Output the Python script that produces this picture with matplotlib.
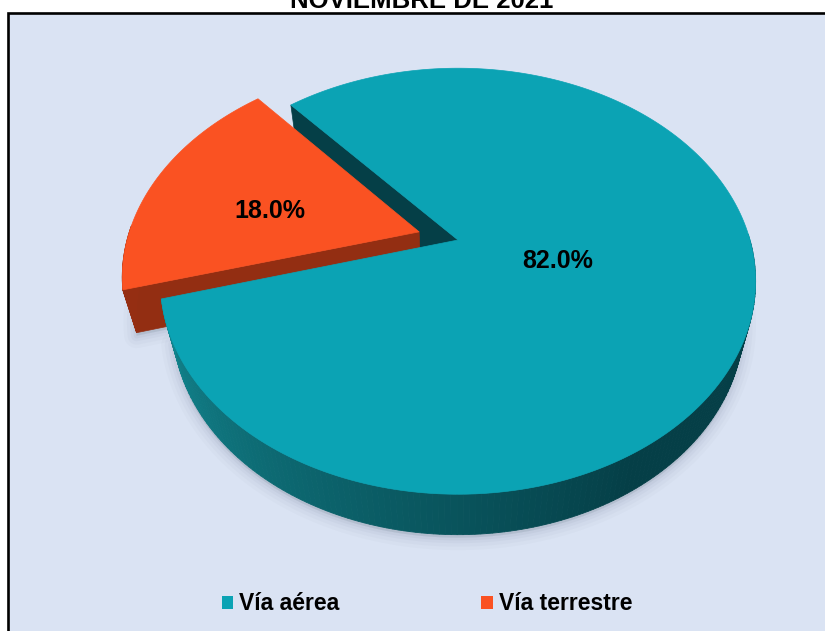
import numpy as np
import matplotlib
matplotlib.use('Agg')
import matplotlib.pyplot as plt
from matplotlib.patches import Polygon, Rectangle, Patch
from matplotlib.colors import to_rgb

# ---------------- data ----------------
title = 'NOVIEMBRE DE 2021'
categories = ['Vía aérea', 'Vía terrestre']
values = [82.0, 18.0]
pct_labels = ['82.0%', '18.0%']

# ---------------- style ----------------
top_colors = ['#0BA3B4', '#FA5222']
wall_light = ['#12868F', '#952E12']
wall_dark = ['#053F47', '#8A2A10']
face_colors = ['#053F47', '#932E12']
explode = [0.0, 0.14]
label_r = [0.35, 0.54]
label_frac = [0.5, 0.42]
start_angle = 131.0
FONT = 'Liberation Sans'

W, H = 825, 631
fig = plt.figure(figsize=(W / 100, H / 100), dpi=100)
fig.patch.set_facecolor('white')
ax = fig.add_axes([0, 0, 1, 1])
ax.set_xlim(0, W)
ax.set_ylim(H, 0)
ax.axis('off')

# chart area frame
ax.add_patch(Rectangle((8, 13), 840, 660, facecolor='#DAE3F3',
                       edgecolor='black', lw=1.9, zorder=0))

# ---------------- 3D projection ----------------
CX, CY, S = 458, 240, 292
elev = np.radians(44.6)
F = 3.68
TH = 0.215


def proj(x, y, z):
    x = np.asarray(x, float); y = np.asarray(y, float); z = np.asarray(z, float)
    yp = y * np.sin(elev) + z * np.cos(elev)
    d = y * np.cos(elev) - z * np.sin(elev)
    k = F / (F + d)
    return np.column_stack([CX + S * x * k, CY - S * yp * k])


def mix(c1, c2, t):
    a = np.array(to_rgb(c1)); b = np.array(to_rgb(c2))
    return tuple(a + (b - a) * t)


fr = np.array(values) / np.sum(values)
bounds = start_angle - 360 * np.concatenate([[0], np.cumsum(fr)])

slices = []
for i in range(len(values)):
    b0, b1 = bounds[i], bounds[i + 1]
    mid = np.radians((b0 + b1) / 2)
    ox, oy = explode[i] * np.cos(mid), explode[i] * np.sin(mid)
    t = np.radians(np.linspace(b0, b1, 300))
    slices.append(dict(b0=b0, b1=b1, mid=mid, ox=ox, oy=oy, t=t))

# shadow
for s in slices:
    ox, oy, t = s['ox'], s['oy'], s['t']
    xs = np.concatenate([[ox], ox + np.cos(t)])
    ys = np.concatenate([[oy], oy + np.sin(t)])
    pts = proj(xs, ys, np.full(len(xs), -TH))
    pts[:, 1] += 3
    for lw, a in [(18, 0.035), (13, 0.045), (8, 0.06), (4, 0.08)]:
        ax.add_patch(Polygon(pts, closed=True, facecolor=(0.45, 0.5, 0.6, a),
                             edgecolor=(0.45, 0.5, 0.6, a), lw=lw,
                             joinstyle='round', zorder=1))

# radial faces
for i, s in enumerate(slices):
    ox, oy = s['ox'], s['oy']
    for ang, vis in [(s['b0'], np.cos(np.radians(s['b0'])) < 0),
                     (s['b1'], np.cos(np.radians(s['b1'])) > 0)]:
        if not vis:
            continue
        a = np.radians(ang)
        xs = [ox, ox + np.cos(a), ox + np.cos(a), ox]
        ys = [oy, oy + np.sin(a), oy + np.sin(a), oy]
        zs = [0, 0, -TH, -TH]
        ax.add_patch(Polygon(proj(xs, ys, zs), closed=True,
                             facecolor=face_colors[i], edgecolor=face_colors[i],
                             lw=0.5, zorder=2))

# outer walls (front part), far slices first
order = sorted(range(len(slices)), key=lambda j: -np.sin(slices[j]['mid']))
for i in order:
    s = slices[i]
    ox, oy, t = s['ox'], s['oy'], s['t']
    for k in range(len(t) - 1):
        ta, tb = t[k], t[k + 1]
        if np.sin((ta + tb) / 2) > 0.03:
            continue
        deg = np.degrees((ta + tb) / 2) % 360
        f = np.clip((deg - 195) / 105, 0, 1)
        col = mix(wall_light[i], wall_dark[i], f)
        xs = [ox + np.cos(ta), ox + np.cos(tb), ox + np.cos(tb), ox + np.cos(ta)]
        ys = [oy + np.sin(ta), oy + np.sin(tb), oy + np.sin(tb), oy + np.sin(ta)]
        zs = [0, 0, -TH, -TH]
        ax.add_patch(Polygon(proj(xs, ys, zs), closed=True, facecolor=col,
                             edgecolor=col, lw=0.6, zorder=3))

# top faces
for i in order:
    s = slices[i]
    ox, oy, t = s['ox'], s['oy'], s['t']
    xs = np.concatenate([[ox], ox + np.cos(t)])
    ys = np.concatenate([[oy], oy + np.sin(t)])
    ax.add_patch(Polygon(proj(xs, ys, np.zeros(len(xs))), closed=True,
                         facecolor=top_colors[i], edgecolor=top_colors[i],
                         lw=0.5, zorder=4))

# percentage labels
for i, s in enumerate(slices):
    a = np.radians(s['b0'] + (s['b1'] - s['b0']) * label_frac[i])
    lx = s['ox'] + label_r[i] * np.cos(a)
    ly = s['oy'] + label_r[i] * np.sin(a)
    p = proj([lx], [ly], [0])[0]
    ax.text(p[0], p[1], pct_labels[i], ha='center', va='center',
            fontsize=18, fontweight='bold', family=FONT, color='black', zorder=6)

# title (partly cut by top edge, as in the original)
ax.text(422, 8, title, ha='center', va='baseline', fontsize=18.5,
        fontweight='bold', family=FONT, color='black', zorder=6)

# legend
handles = [Patch(facecolor=top_colors[i], edgecolor='none') for i in range(len(categories))]
leg = fig.legend(handles, categories, loc='center', ncol=2,
                 bbox_to_anchor=(427 / W, 1 - 604 / H), frameon=False,
                 prop={'family': FONT, 'weight': 'bold', 'size': 16.5},
                 handlelength=0.5, handleheight=0.5, handletextpad=0.25,
                 columnspacing=6.2)

fig.savefig('out.png', dpi=100, facecolor='white')
